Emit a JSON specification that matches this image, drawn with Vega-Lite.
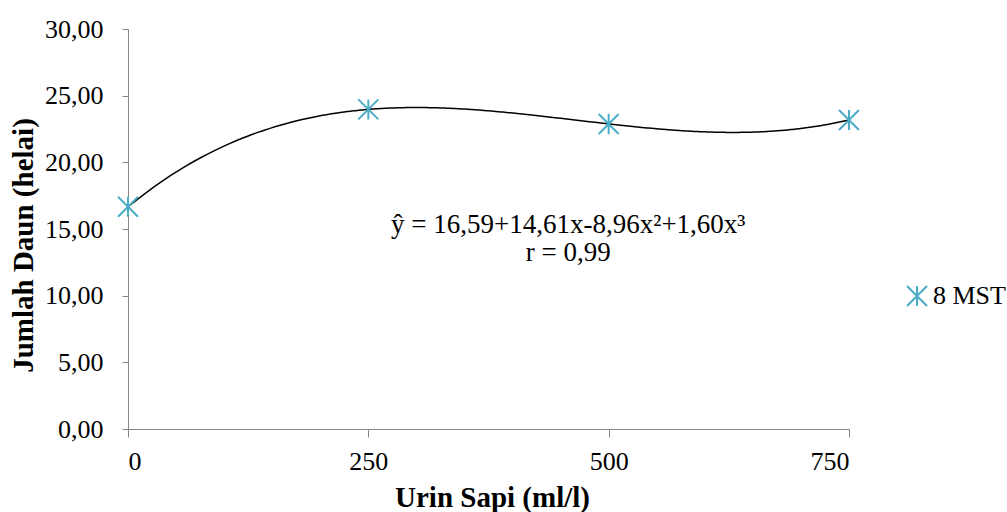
{
  "$schema": "https://vega.github.io/schema/vega-lite/v6.json",
  "width": 721,
  "height": 400,
  "autosize": "none",
  "padding": {"left": 128, "top": 29, "right": 158, "bottom": 83},
  "background": "white",
  "config": {
    "view": {"stroke": null},
    "font": "Liberation Serif",
    "axis": {"labelFont": "Liberation Serif", "titleFont": "Liberation Serif", "labelColor": "black", "titleColor": "black", "domainColor": "#868686", "tickColor": "#868686", "grid": false}
  },
  "datasets": {
    "pts": [
      {"dosis": 0, "daun": 16.67, "seri": "8 MST"},
      {"dosis": 250, "daun": 23.97, "seri": "8 MST"},
      {"dosis": 500, "daun": 22.88, "seri": "8 MST"},
      {"dosis": 750, "daun": 23.18, "seri": "8 MST"}
    ],
    "notes": [
      {"dosis": 458, "daun": 15.3, "label": "ŷ =  16,59+14,61x-8,96x²+1,60x³"},
      {"dosis": 458, "daun": 13.2, "label": "r = 0,99"}
    ]
  },
  "layer": [
    {
      "data": {"name": "pts"},
      "transform": [{"regression": "daun", "on": "dosis", "method": "poly", "order": 3, "extent": [0, 750]}],
      "mark": {"type": "line", "color": "black", "strokeWidth": 1.5, "interpolate": "monotone"},
      "encoding": {
        "x": {"field": "dosis", "type": "quantitative", "scale": {"domain": [0, 750], "nice": false}, "axis": {"values": [0, 250, 500, 750], "title": "Urin Sapi (ml/l)", "labelFontSize": 26, "titleFontSize": 29, "titleFontWeight": "bold", "tickSize": 8, "labelPadding": 11, "titleX": 364, "titleY": 68, "titleBaseline": "middle"}},
        "y": {"field": "daun", "type": "quantitative", "scale": {"domain": [0, 30], "nice": false}, "axis": {"values": [0, 5, 10, 15, 20, 25, 30], "labelExpr": "replace(format(datum.value, '.2f'), '.', ',')", "title": "Jumlah Daun (helai)", "labelFontSize": 26, "titleFontSize": 29, "titleFontWeight": "bold", "tickSize": 6, "labelPadding": 19, "titleX": -105, "titleY": 216, "titleBaseline": "middle"}}
      }
    },
    {
      "data": {"name": "pts"},
      "mark": {"type": "point", "shape": "M-1,-1L1,1M-1,1L1,-1M0,-1L0,1", "size": 400, "strokeWidth": 2, "filled": false, "opacity": 1},
      "encoding": {
        "x": {"field": "dosis", "type": "quantitative"},
        "y": {"field": "daun", "type": "quantitative"},
        "color": {"field": "seri", "type": "nominal", "scale": {"range": ["#4BACC6"]}, "legend": {"title": null, "orient": "none", "legendX": 776, "legendY": 254, "labelFontSize": 26, "labelFont": "Liberation Serif", "labelColor": "black", "symbolType": "M-1,-1L1,1M-1,1L1,-1M0,-1L0,1", "symbolSize": 400, "symbolStrokeWidth": 2, "symbolOffset": 0, "labelOffset": 3}}
      }
    },
    {
      "data": {"name": "notes"},
      "mark": {"type": "text", "fontSize": 27, "font": "Liberation Serif", "color": "black", "align": "center", "baseline": "middle"},
      "encoding": {
        "x": {"field": "dosis", "type": "quantitative"},
        "y": {"field": "daun", "type": "quantitative"},
        "text": {"field": "label"}
      }
    }
  ]
}
